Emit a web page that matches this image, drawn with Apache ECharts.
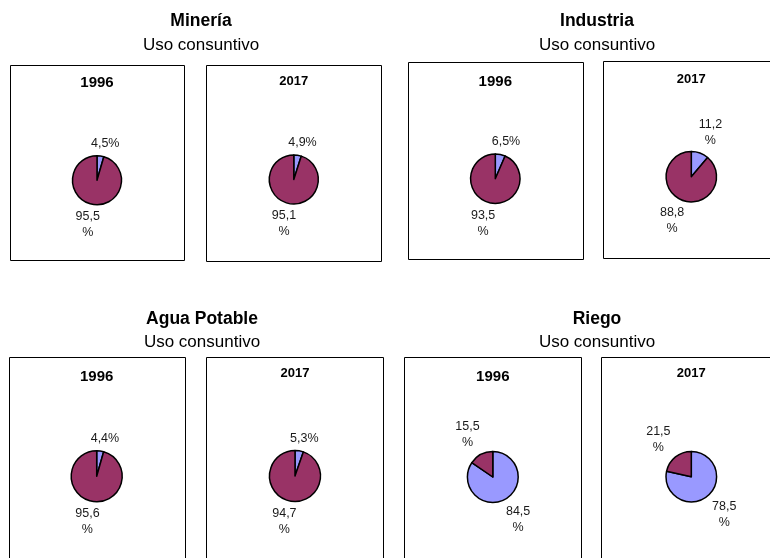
<!DOCTYPE html>
<html>
<head>
<meta charset="utf-8">
<script src="https://cdn.jsdelivr.net/npm/echarts@6/dist/echarts.min.js"></script>
<style>
  html, body { margin: 0; padding: 0; background: #fff; }
  #chart { width: 770px; height: 558px; }
</style>
</head>
<body>
<div id="chart"></div>
<script>
// datos: participación del sector en el uso consuntivo (%)
const sectors = ['Minería', 'Industria', 'Agua Potable', 'Riego'];
const subtitle = 'Uso consuntivo';
const years = ['1996', '2017'];
const sectorShare1996 = [4.5, 6.5, 4.4, 84.5];
const otherShare1996 = [95.5, 93.5, 95.6, 15.5];
const sectorShare2017 = [4.9, 11.2, 5.3, 78.5];
const otherShare2017 = [95.1, 88.8, 94.7, 21.5];
const otherName = 'Otros usos';

const colors = ['#9999ff', '#993366'];
const FONT = '"Liberation Sans", Arial, Helvetica, sans-serif';

// layout of each sector block
const groups = [
  { x: 201, titleY: 21.5, subY: 45 },
  { x: 597, titleY: 21.5, subY: 45 },
  { x: 202, titleY: 319, subY: 342.5 },
  { x: 597, titleY: 319, subY: 342.5 }
];
// one panel per sector and year: frame, pie centre, radius, year label
const panels = [
  [{ box: [10.5, 65.5, 174, 195], c: [97, 180.3], r: 24.5, yearY: 82.7, fs: 15 },
   { box: [206.5, 65.5, 175, 196], c: [293.8, 179.5], r: 24.5, yearY: 81, fs: 13 }],
  [{ box: [408.5, 62.5, 175, 197], c: [495.3, 178.7], r: 24.7, yearY: 82, fs: 15 },
   { box: [603.5, 61.5, 200, 197], c: [691.3, 176.7], r: 25.2, yearY: 79, fs: 13 }],
  [{ box: [9.5, 357.5, 176, 250], c: [96.7, 476.3], r: 25.5, yearY: 376.7, fs: 15 },
   { box: [206.5, 357.5, 177, 250], c: [295, 476], r: 25.5, yearY: 373.3, fs: 13 }],
  [{ box: [404.5, 357.5, 177, 250], c: [492.8, 477], r: 25.4, yearY: 377, fs: 15 },
   { box: [601.5, 357.5, 200, 250], c: [691.3, 476.7], r: 25.3, yearY: 373.3, fs: 13 }]
];

function fmtPct(v) {
  const s = v.toFixed(1).replace('.', ',');
  return v >= 10 ? s + '\n%' : s + '%';
}

const graphics = [];
const series = [];

sectors.forEach(function (name, i) {
  const g = groups[i];
  graphics.push({
    type: 'text', x: g.x, y: g.titleY, silent: true,
    style: { text: name, fontFamily: FONT, fontSize: 17.5, fontWeight: 'bold', fill: '#000', align: 'center', verticalAlign: 'middle' }
  });
  graphics.push({
    type: 'text', x: g.x, y: g.subY, silent: true,
    style: { text: subtitle, fontFamily: FONT, fontSize: 17, fill: '#000', align: 'center', verticalAlign: 'middle' }
  });

  years.forEach(function (year, j) {
    const p = panels[i][j];
    const share = j === 0 ? sectorShare1996[i] : sectorShare2017[i];
    const other = j === 0 ? otherShare1996[i] : otherShare2017[i];
    const vals = [share, other];

    graphics.push({
      type: 'rect', silent: true,
      shape: { x: p.box[0], y: p.box[1], width: p.box[2], height: p.box[3] },
      style: { fill: 'none', stroke: '#000', lineWidth: 1 }
    });
    graphics.push({
      type: 'text', x: p.c[0], y: p.yearY, silent: true,
      style: { text: year, fontFamily: FONT, fontSize: p.fs, fontWeight: 'bold', fill: '#000', align: 'center', verticalAlign: 'middle' }
    });

    series.push({
      type: 'pie',
      name: name + ' ' + year,
      center: p.c,
      radius: p.r,
      startAngle: 90,
      clockwise: true,
      avoidLabelOverlap: false,
      silent: true,
      animation: false,
      itemStyle: { borderColor: '#000', borderWidth: 1.5 },
      label: {
        show: true,
        position: 'outside',
        fontFamily: FONT,
        fontSize: 12.5,
        lineHeight: 16,
        color: '#1a1a1a',
        formatter: function (prm) { return fmtPct(prm.value); }
      },
      labelLine: { show: false },
      emphasis: { disabled: true },
      labelLayout: function (prm) {
        const total = vals[0] + vals[1];
        let cum = 0;
        for (let k = 0; k < prm.dataIndex; k++) cum += vals[k];
        const mid = (cum + vals[prm.dataIndex] / 2) / total * Math.PI * 2;
        const dx = Math.sin(mid), dy = -Math.cos(mid);
        const w = prm.labelRect.width, h = prm.labelRect.height;
        const d = p.r + 2.5 + Math.abs(dx) * w / 2 + Math.abs(dy) * h / 2;
        return { x: p.c[0] + dx * d + (dx > 0 ? 3 : -3), y: p.c[1] + dy * d, align: 'center', verticalAlign: 'middle' };
      },
      data: [
        { name: name, value: share, itemStyle: { color: colors[0] } },
        { name: otherName, value: other, itemStyle: { color: colors[1] } }
      ]
    });
  });
});

const chart = echarts.init(document.getElementById('chart'));
chart.setOption({
  backgroundColor: '#fff',
  animation: false,
  graphic: graphics,
  series: series
});
</script>
</body>
</html>
